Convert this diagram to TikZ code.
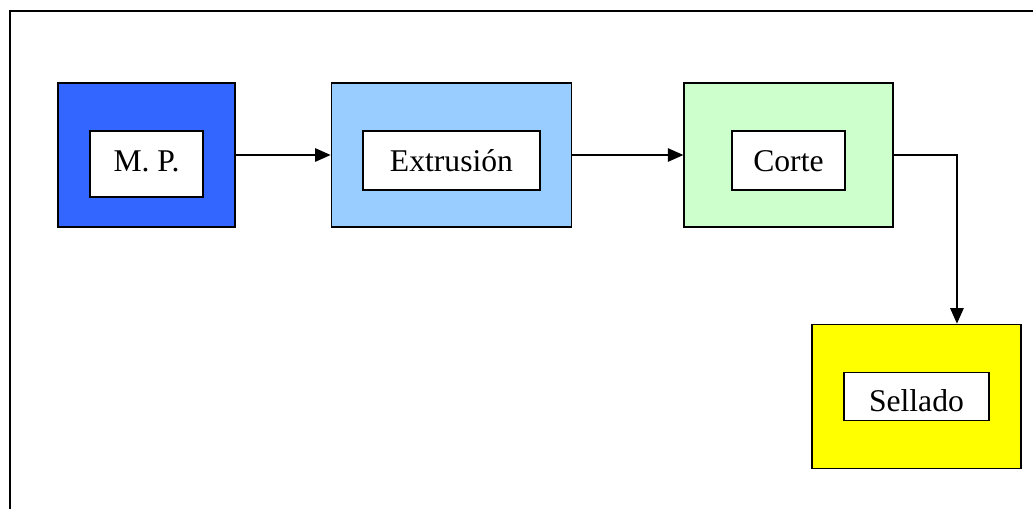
\documentclass[tikz,border=0pt]{standalone}
\usepackage{fontspec}
\setmainfont{Liberation Serif}
\usepackage{tikz}
\usetikzlibrary{arrows.meta,positioning}
\definecolor{mpblue}{RGB}{51,102,255}
\definecolor{extblue}{RGB}{153,204,255}
\definecolor{cortegreen}{RGB}{204,255,204}
\definecolor{selladoyellow}{RGB}{255,255,0}

\begin{document}
\begin{tikzpicture}[>={Triangle[length=0.31cm,width=0.27cm]},
  every node/.style={align=center,font=\fontsize{18}{21}\selectfont},
  stagebox/.style={draw,line width=0.7pt,minimum height=2.88cm,inner sep=0pt},
  namebox/.style={draw,line width=0.7pt,fill=white,inner sep=0pt,text depth=0pt},
  flow/.style={->,line width=0.7pt}]
  \useasboundingbox (0,0) rectangle (20.66,-10.18);
  % open frame round the chart
  \draw[line width=0.8pt] (0.2,-10.18) -- (0.2,-0.22) -- (20.66,-0.22);

  \node[stagebox,fill=mpblue,minimum width=3.54cm] (mp) at (2.93,-3.10) {};
  \node[namebox,minimum width=2.26cm,minimum height=1.32cm,text height=9pt,yshift=-0.18cm] (mpname) at (mp.center) {M. P.};

  \node[stagebox,fill=extblue,minimum width=4.81cm,right=1.9cm of mp] (ext) {};
  \node[namebox,minimum width=3.54cm,minimum height=1.18cm,text height=12.7pt,yshift=-0.11cm] (extname) at (ext.center) {Extrusión};

  \node[stagebox,fill=cortegreen,minimum width=4.18cm,right=2.22cm of ext] (corte) {};
  \node[namebox,minimum width=2.26cm,minimum height=1.18cm,text height=12.7pt,yshift=-0.11cm] (cortename) at (corte.center) {Corte};

  \node[stagebox,fill=selladoyellow,minimum width=4.18cm,below=1.92cm of corte,xshift=2.56cm] (sellado) {};
  \node[namebox,minimum width=2.90cm,minimum height=0.96cm,text height=17pt] (selladoname) at (sellado.center) {Sellado};

  \draw[flow] (mp.east) -- (ext.west);
  \draw[flow] (ext.east) -- (corte.west);
  \draw[flow] (corte.east) -| ([xshift=0.81cm]sellado.north);
\end{tikzpicture}
\end{document}
